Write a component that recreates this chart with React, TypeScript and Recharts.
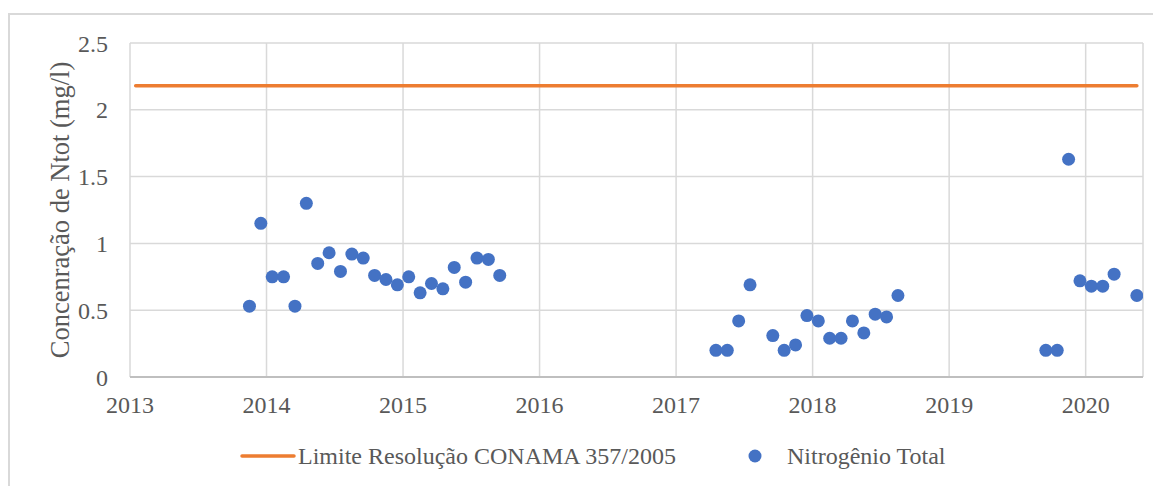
import React from 'react';
import { ComposedChart, Scatter, Line, XAxis, YAxis, CartesianGrid, Legend } from 'recharts';

// amostras mensais de nitrogenio total (mg/l)
const sampleMonths = [
  '2013-11', '2013-12', '2014-01', '2014-02', '2014-03', '2014-04', '2014-05', '2014-06',
  '2014-07', '2014-08', '2014-09', '2014-10', '2014-11', '2014-12', '2015-01', '2015-02',
  '2015-03', '2015-04', '2015-05', '2015-06', '2015-07', '2015-08', '2015-09',
  '2017-04', '2017-05', '2017-06', '2017-07', '2017-09', '2017-10', '2017-11', '2017-12',
  '2018-01', '2018-02', '2018-03', '2018-04', '2018-05', '2018-06', '2018-07', '2018-08',
  '2019-09', '2019-10', '2019-11', '2019-12', '2020-01', '2020-02', '2020-03', '2020-05',
];
const nitrogenValues = [
  0.53, 1.15, 0.75, 0.75, 0.53, 1.30, 0.85, 0.93,
  0.79, 0.92, 0.89, 0.76, 0.73, 0.69, 0.75, 0.63,
  0.70, 0.66, 0.82, 0.71, 0.89, 0.88, 0.76,
  0.20, 0.20, 0.42, 0.69, 0.31, 0.20, 0.24, 0.46,
  0.42, 0.29, 0.29, 0.42, 0.33, 0.47, 0.45, 0.61,
  0.20, 0.20, 1.63, 0.72, 0.68, 0.68, 0.77, 0.61,
];

const limitMonths = ['2013-01', '2020-05'];
const limitValues = [2.18, 2.18];

const yearTicks = [2013, 2014, 2015, 2016, 2017, 2018, 2019, 2020];
const yTicks = [0, 0.5, 1, 1.5, 2, 2.5];
const seriesNames = ['Limite Resolução CONAMA 357/2005', 'Nitrogênio Total'];
const yTitle = 'Concenração de Ntot (mg/l)';

const BLUE = '#4472C4';
const ORANGE = '#ED7D31';
const GRID = '#d9d9d9';
const TEXT = '#595959';
const FONT = 'Liberation Serif';

// mes no meio do mes -> ano decimal
const toYear = (s: string) => {
  const [y, m] = s.split('-').map(Number);
  return y + (m - 0.5) / 12;
};

const nitrogenData = sampleMonths.map((m, i) => ({ x: toYear(m), y: nitrogenValues[i] }));
const limitData = limitMonths.map((m, i) => ({ x: toYear(m), y: limitValues[i] }));

const Dot = (props: any) => <circle cx={props.cx} cy={props.cy} r={6.5} fill={BLUE} />;

const txt = { fill: TEXT, fontSize: 24, fontFamily: FONT };

const LegendBox = () => (
  <svg width={1153} height={30}>
    <line x1={234} x2={286} y1={15} y2={15} stroke={ORANGE} strokeWidth={3.5} strokeLinecap="round" />
    <text x={290} y={15} dominantBaseline="central" style={txt}>
      {seriesNames[0]}
    </text>
    <circle cx={747} cy={15} r={6.5} fill={BLUE} />
    <text x={779} y={15} dominantBaseline="central" style={txt}>
      {seriesNames[1]}
    </text>
  </svg>
);

export default function App() {
  return (
    <div style={{ position: 'relative', width: 1153, height: 478, fontFamily: FONT }}>
      <div
        style={{
          position: 'absolute', top: 5, left: 0, right: 0, bottom: 0,
          borderTop: `2px solid ${GRID}`, borderLeft: `2px solid ${GRID}`,
        }}
      />
      <ComposedChart
        width={1153}
        height={478}
        margin={{ top: 35, right: 18, left: 0, bottom: 79 }}
        style={{ position: 'absolute', top: 0, left: 0, fontFamily: FONT }}
      >
        <CartesianGrid stroke={GRID} strokeWidth={1.5} />
        <XAxis
          type="number"
          dataKey="x"
          domain={[2013, 2020.42]}
          ticks={yearTicks}
          allowDataOverflow
          height={30}
          stroke="#bfbfbf"
          strokeWidth={2}
          tickLine={false}
          tickSize={0}
          tickMargin={19}
          tick={{ ...txt, style: txt }}
        />
        <YAxis
          type="number"
          dataKey="y"
          domain={[0, 2.5]}
          ticks={yTicks}
          width={122}
          axisLine={false}
          tickLine={false}
          tickSize={0}
          tickMargin={22}
          tick={{ ...txt, style: txt }}
          label={{
            value: yTitle, angle: -90, position: 'center', dx: -9,
            style: { ...txt, fontSize: 26.5, textAnchor: 'middle' },
          }}
        />
        <Line
          data={limitData}
          dataKey="y"
          stroke={ORANGE}
          strokeWidth={3.5}
          strokeLinecap="round"
          dot={false}
          activeDot={false}
          isAnimationActive={false}
        />
        <Scatter data={nitrogenData} dataKey="y" shape={Dot} isAnimationActive={false} />
        <Legend
          verticalAlign="middle"
          align="center"
          layout="horizontal"
          wrapperStyle={{ top: 433, left: 0, width: 1153 }}
          content={() => <LegendBox />}
        />
      </ComposedChart>
    </div>
  );
}
